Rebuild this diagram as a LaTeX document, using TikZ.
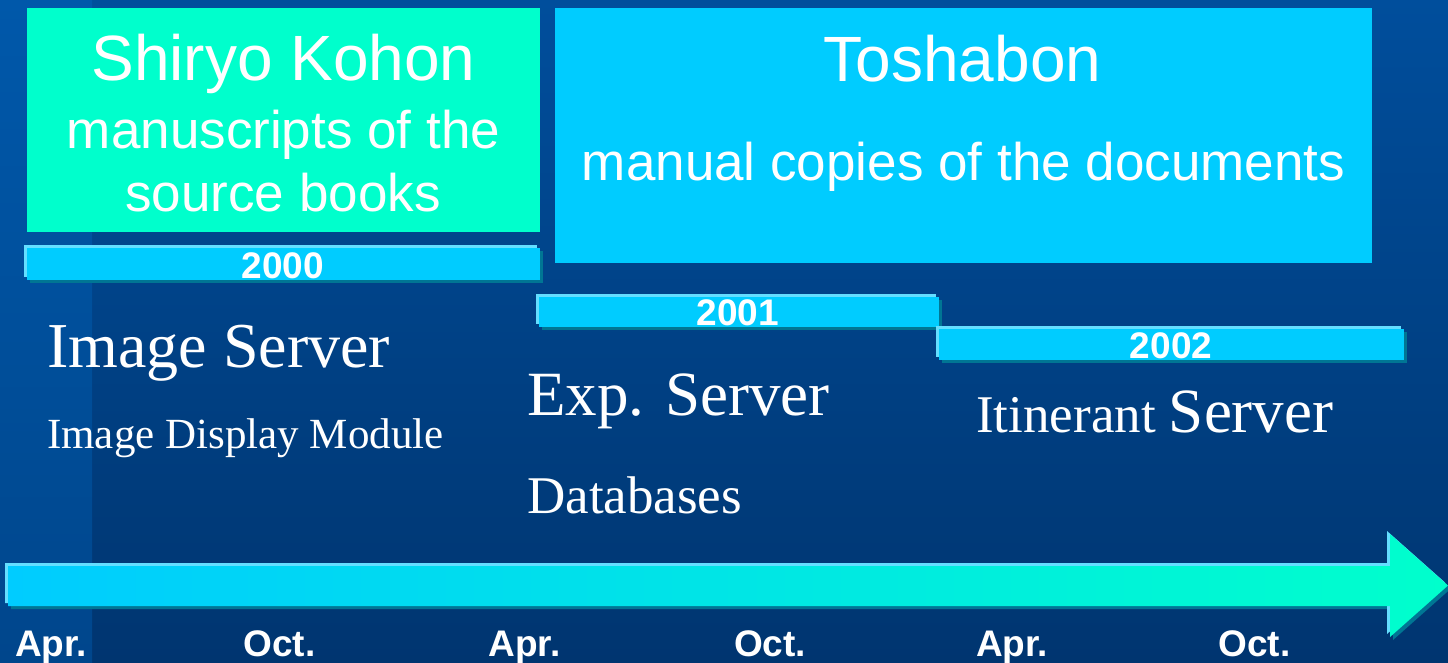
\documentclass[tikz,border=0pt]{standalone}
\usepackage{fontspec}
\setmainfont{Liberation Serif}
\newfontfamily\arialf{Liberation Sans}
\definecolor{bgtop}{RGB}{0,78,156}
\definecolor{bgbot}{RGB}{0,53,112}
\definecolor{striptop}{RGB}{0,88,170}
\definecolor{stripbot}{RGB}{0,70,140}
\definecolor{mint}{RGB}{0,255,204}
\definecolor{skyc}{RGB}{0,204,255}
\definecolor{hilite}{RGB}{100,222,255}
\definecolor{shadowc}{RGB}{0,118,148}
\tikzset{
  barhl/.style={fill=hilite},
  barsh/.style={fill=shadowc},
  barmain/.style={fill=skyc},
  yeartxt/.style={anchor=base,inner sep=0pt,text=white,font=\arialf\bfseries\fontsize{37}{40}\selectfont},
  monthtxt/.style={anchor=base,inner sep=0pt,text=white,font=\arialf\bfseries\fontsize{37}{40}\selectfont},
  boxtxt/.style={anchor=base,inner sep=0pt,text=white},
  srvtxt/.style={anchor=base west,inner sep=0pt,text=white},
}
\begin{document}
\begin{tikzpicture}[x=1pt,y=-1pt]
\useasboundingbox (0,0) rectangle (1448,662);
% background
\shade[top color=bgtop,bottom color=bgbot] (0,0) rectangle (1448,662);
\shade[top color=striptop,bottom color=stripbot] (0,0) rectangle (92,662);
% top boxes
\fill[mint] (27,8) rectangle (540,232);
\fill[skyc] (555,8) rectangle (1372,263);
\node[boxtxt,font=\arialf\fontsize{64}{70}\selectfont] (shiryo) at (283.5,80) {Shiryo Kohon};
\node[boxtxt,font=\arialf\fontsize{53}{60}\selectfont] (manus) at (283.5,148) {manuscripts of the};
\node[boxtxt,font=\arialf\fontsize{53}{60}\selectfont] (source) at (283,211) {source books};
\node[boxtxt,font=\arialf\fontsize{64}{70}\selectfont] (tosha) at (962.5,81) {Toshabon};
\node[boxtxt,font=\arialf\fontsize{53}{60}\selectfont] (manual) at (963.5,180) {manual copies of the documents};
% year bars
\fill[barhl] (24,244.5) rectangle (537,277);
\fill[barsh] (30,250.5) rectangle (543,283);
\fill[barmain] (27,247.5) rectangle (540,280);
\node[yeartxt] (y2000) at (283,278.3) {2000};
\fill[barhl] (536,293.5) rectangle (936,324);
\fill[barsh] (542,299.5) rectangle (942,330);
\fill[barmain] (539,296.5) rectangle (939,327);
\node[yeartxt] (y2001) at (738,325) {2001};
\fill[barhl] (936,325.5) rectangle (1401,357);
\fill[barsh] (942,331.5) rectangle (1407,363);
\fill[barmain] (939,328.5) rectangle (1404,360);
\node[yeartxt] (y2002) at (1171,358.3) {2002};
% server texts
\node[srvtxt,font=\fontsize{64}{70}\selectfont] (imgsrv) at (47,367) {Image Server};
\node[srvtxt,font=\fontsize{43}{48}\selectfont] (imgdisp) at (47,448) {Image Display Module};
\node[srvtxt,font=\fontsize{63}{70}\selectfont] (expsrv) at (527,415) {Exp. Server};
\node[srvtxt,font=\fontsize{53}{58}\selectfont] (dbs) at (527,513) {Databases};
\node[srvtxt,font=\fontsize{53}{58}\selectfont] (itin) at (976,432) {Itinerant {\fontsize{63}{68}\selectfont Server}};
% timeline arrow
\fill[shadowc] (11,569) -- (1393,569) -- (1393,537) -- (1451,588.5) -- (1393,640) -- (1393,609) -- (11,609) -- cycle;
\fill[hilite] (5,563) -- (1387,563) -- (1387,531) -- (1445,582.5) -- (1387,634) -- (1387,603) -- (5,603) -- cycle;
\shade[left color=skyc,right color=mint] (8,566) -- (1390,566) -- (1390,534) -- (1448,585.5) -- (1390,637) -- (1390,606) -- (8,606) -- cycle;
% months
\node[monthtxt] (m1) at (51,656.7) {Apr.};
\node[monthtxt] (m2) at (279.5,656.7) {Oct.};
\node[monthtxt] (m3) at (524.5,656.7) {Apr.};
\node[monthtxt] (m4) at (770,656.7) {Oct.};
\node[monthtxt] (m5) at (1012,656.7) {Apr.};
\node[monthtxt] (m6) at (1254.5,656.7) {Oct.};
\end{tikzpicture}
\end{document}
